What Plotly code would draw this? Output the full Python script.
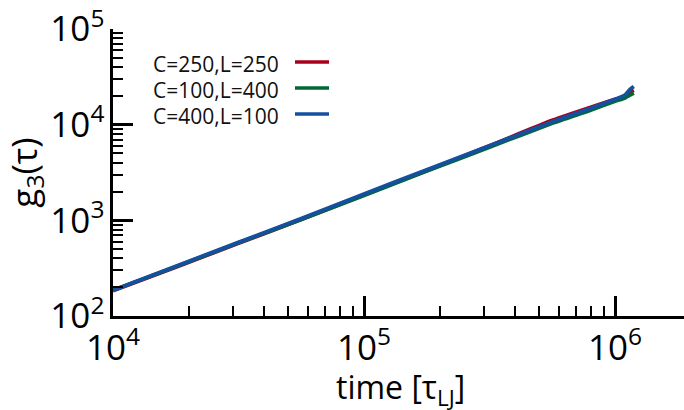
import plotly.graph_objects as go

# data (log10 values)
log_time = [4.0, 4.25, 4.5, 4.75, 5.0, 5.25, 5.5, 5.75, 5.9, 6.0, 6.04, 6.06, 6.075]
blue_log = [2.27, 2.52, 2.77, 3.02, 3.275, 3.53, 3.78, 4.03, 4.17, 4.265, 4.31, 4.37, 4.40]
red_log = [2.265, 2.51, 2.76, 3.01, 3.265, 3.52, 3.78, 4.045, 4.18, 4.265, 4.30, 4.34, 4.36]
green_log = [2.27, 2.515, 2.765, 3.01, 3.26, 3.515, 3.765, 4.015, 4.15, 4.245, 4.28, 4.31, 4.33]

series_names = ["C=250,L=250", "C=100,L=400", "C=400,L=100"]
series_colors = ["#a8001c", "#006837", "#1450a0"]

time = [10 ** v for v in log_time]
series = [[10 ** v for v in red_log], [10 ** v for v in green_log], [10 ** v for v in blue_log]]

FONT = "Open Sans"

fig = go.Figure()
for name, col, ys in zip(series_names, series_colors, series):
    fig.add_trace(go.Scatter(x=time, y=ys, mode="lines", name=name,
                             line=dict(color=col, width=3.8, shape="spline", smoothing=0.6),
                             showlegend=False))

# Manual legend (text right, line sample on the right)
PL, PR, PT, PB = 113, 684, 29, 316
W, H = PR - PL, PB - PT
def px(x):
    return (x - PL) / W
def py(y):
    return (PB - y) / H

legend_rows = [62, 88, 114]
for name, col, yy in zip(series_names, series_colors, legend_rows):
    fig.add_annotation(x=px(281), y=py(yy + 2), xref="paper", yref="paper",
                       text=name, showarrow=False, xanchor="right", yanchor="middle",
                       font=dict(family=FONT, size=21, color="#111"))
    fig.add_shape(type="line", xref="paper", yref="paper",
                  x0=px(295), x1=px(329), y0=py(yy), y1=py(yy),
                  line=dict(color=col, width=3.5))

axis_common = dict(
    type="log", dtick=1, exponentformat="power", showexponent="all",
    showline=True, linecolor="black", linewidth=3,
    ticks="inside", ticklen=20, tickwidth=2.5, tickcolor="black",
    showgrid=False, zeroline=False, automargin=False,
    tickfont=dict(family=FONT, size=28, color="black"),
    minor=dict(ticks="inside", ticklen=10, tickwidth=2, tickcolor="black", dtick="D1", showgrid=False),
)

fig.update_xaxes(range=[4, 4 + W / 251.0], **axis_common)
fig.update_yaxes(range=[2, 5.0005], **axis_common)
fig.update_yaxes(title=dict(text="g<sub>3</sub>(τ)", standoff=0,
                            font=dict(family=FONT, size=35, color="black")))

fig.add_annotation(x=px(400), y=py(389), xref="paper", yref="paper",
                   text="time [τ<sub>LJ</sub>]", showarrow=False,
                   xanchor="center", yanchor="middle",
                   font=dict(family=FONT, size=32, color="black"))

fig.update_layout(
    width=684, height=410,
    margin=dict(l=PL, r=684 - PR, t=PT, b=410 - PB),
    plot_bgcolor="white", paper_bgcolor="white",
    showlegend=False,
)

fig.write_html("out.html")
